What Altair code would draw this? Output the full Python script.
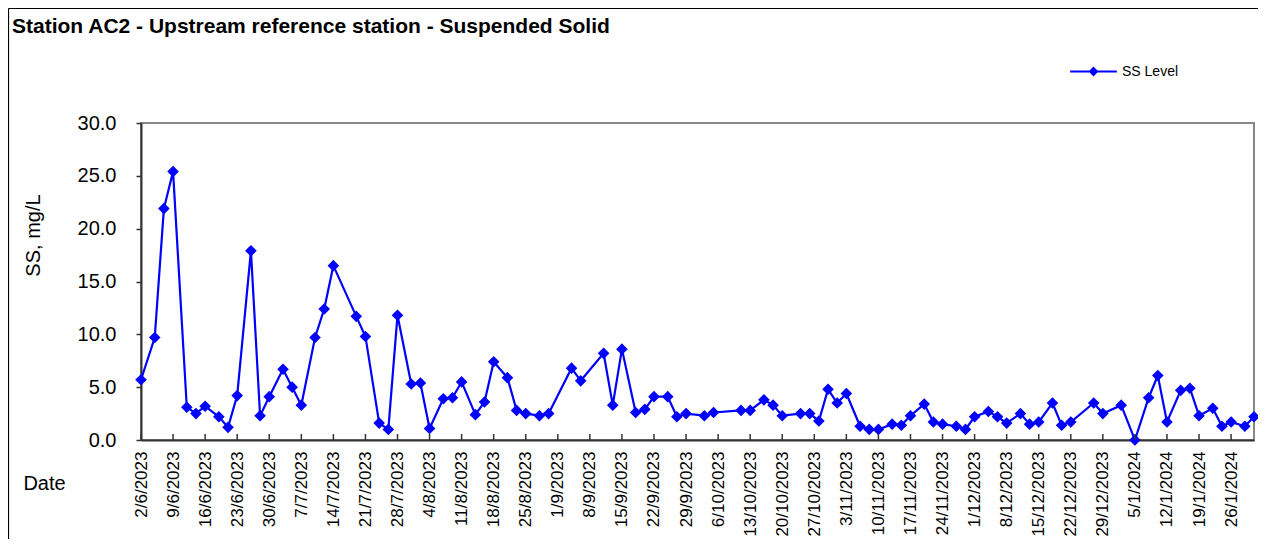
import altair as alt
import pandas as pd

# ---- data ----
dates = [
    "2/6/2023", "5/6/2023", "7/6/2023", "9/6/2023", "12/6/2023", "14/6/2023", "16/6/2023",
    "19/6/2023", "21/6/2023", "23/6/2023", "26/6/2023", "28/6/2023", "30/6/2023",
    "3/7/2023", "5/7/2023", "7/7/2023", "10/7/2023", "12/7/2023", "14/7/2023", "19/7/2023",
    "21/7/2023", "24/7/2023", "26/7/2023", "28/7/2023", "31/7/2023",
    "2/8/2023", "4/8/2023", "7/8/2023", "9/8/2023", "11/8/2023", "14/8/2023", "16/8/2023",
    "18/8/2023", "21/8/2023", "23/8/2023", "25/8/2023", "28/8/2023", "30/8/2023",
    "4/9/2023", "6/9/2023", "11/9/2023", "13/9/2023", "15/9/2023", "18/9/2023", "20/9/2023",
    "22/9/2023", "25/9/2023", "27/9/2023", "29/9/2023",
    "3/10/2023", "5/10/2023", "11/10/2023", "13/10/2023", "16/10/2023", "18/10/2023",
    "20/10/2023", "24/10/2023", "26/10/2023", "28/10/2023", "30/10/2023",
    "1/11/2023", "3/11/2023", "6/11/2023", "8/11/2023", "10/11/2023", "13/11/2023",
    "15/11/2023", "17/11/2023", "20/11/2023", "22/11/2023", "24/11/2023", "27/11/2023",
    "29/11/2023", "1/12/2023", "4/12/2023", "6/12/2023", "8/12/2023", "11/12/2023",
    "13/12/2023", "15/12/2023", "18/12/2023", "20/12/2023", "22/12/2023", "27/12/2023",
    "29/12/2023", "2/1/2024", "5/1/2024", "8/1/2024", "10/1/2024", "12/1/2024",
    "15/1/2024", "17/1/2024", "19/1/2024", "22/1/2024", "24/1/2024", "26/1/2024",
    "29/1/2024", "31/1/2024",
]
ss_level = [
    5.7, 9.7, 21.9, 25.4, 3.1, 2.5, 3.2,
    2.2, 1.2, 4.2, 17.9, 2.3, 4.1,
    6.7, 5.0, 3.3, 9.7, 12.4, 16.5, 11.7,
    9.8, 1.6, 1.0, 11.8, 5.3,
    5.4, 1.1, 3.9, 4.0, 5.5, 2.4, 3.6,
    7.4, 5.9, 2.8, 2.5, 2.3, 2.5,
    6.8, 5.6, 8.2, 3.3, 8.6, 2.6, 2.9,
    4.1, 4.1, 2.2, 2.5,
    2.3, 2.6, 2.8, 2.8, 3.8, 3.3,
    2.3, 2.5, 2.5, 1.8, 4.8,
    3.5, 4.4, 1.3, 1.0, 1.0, 1.5,
    1.4, 2.3, 3.4, 1.7, 1.5, 1.3,
    1.0, 2.2, 2.7, 2.2, 1.6, 2.5,
    1.5, 1.7, 3.5, 1.4, 1.7, 3.5,
    2.5, 3.3, 0.0, 4.0, 6.1, 1.7,
    4.7, 4.9, 2.3, 3.0, 1.3, 1.7,
    1.3, 2.2,
]
tick_labels = [
    "2/6/2023", "9/6/2023", "16/6/2023", "23/6/2023", "30/6/2023", "7/7/2023",
    "14/7/2023", "21/7/2023", "28/7/2023", "4/8/2023", "11/8/2023", "18/8/2023",
    "25/8/2023", "1/9/2023", "8/9/2023", "15/9/2023", "22/9/2023", "29/9/2023",
    "6/10/2023", "13/10/2023", "20/10/2023", "27/10/2023", "3/11/2023", "10/11/2023",
    "17/11/2023", "24/11/2023", "1/12/2023", "8/12/2023", "15/12/2023", "22/12/2023",
    "29/12/2023", "5/1/2024", "12/1/2024", "19/1/2024", "26/1/2024",
]
y_ticks = [0, 5, 10, 15, 20, 25, 30]
x_start, x_end = "2/6/2023", "31/1/2024"
series_name = "SS Level"

FONT = "Liberation Sans"
W, H = 1113, 317
PAD_R, PAD_B = 4, 99


def to_iso(s):
    return pd.to_datetime(s, dayfirst=True).strftime("%Y-%m-%d")


def to_ms(s):
    return int(pd.Timestamp(pd.to_datetime(s, dayfirst=True)).tz_localize("UTC").timestamp() * 1000)


df = pd.DataFrame({"date": [to_iso(d) for d in dates], "value": ss_level})
df["series"] = series_name
ticks_df = pd.DataFrame({"date": [to_iso(d) for d in tick_labels]})

x_scale = alt.Scale(type="utc", domain=[to_ms(x_start), to_ms(x_end)], nice=False)
y_scale = alt.Scale(domain=[0, 30], nice=False, zero=True)

x_axis = alt.Axis(
    values=[to_ms(d) for d in tick_labels],
    format="%-d/%-m/%Y",
    labelAngle=270,
    labelFontSize=17,
    labelFont=FONT,
    labelColor="#000000",
    labelPadding=11,
    labelFlush=False,
    labelOverlap=False,
    labelSeparation=0,
    ticks=False,
    tickSize=0,
    grid=False,
    domainColor="#333333",
    domainWidth=2,
    title="Date",
    titleFont=FONT,
    titleFontSize=20,
    titleFontWeight="normal",
    titleColor="#000000",
    titleAngle=0,
    titleAlign="center",
    titleBaseline="middle",
    titleX=-97,
    titleY=43,
)
y_axis = alt.Axis(
    values=y_ticks,
    format=".1f",
    labelFontSize=20,
    labelFont=FONT,
    labelColor="#000000",
    labelPadding=20,
    tickSize=5,
    tickColor="#333333",
    tickWidth=1.5,
    grid=False,
    domainColor="#333333",
    domainWidth=2,
    title="SS, mg/L",
    titleFont=FONT,
    titleFontSize=20,
    titleFontWeight="normal",
    titleColor="#000000",
    titleAngle=270,
    titleAlign="center",
    titleBaseline="middle",
    titleX=-108,
    titleY=112,
)


def xe():
    return alt.X("date:T", scale=x_scale, axis=x_axis)


def ye():
    return alt.Y("value:Q", scale=y_scale, axis=y_axis)


line = alt.Chart(df).mark_line(strokeWidth=2.2).encode(
    x=xe(),
    y=ye(),
    color=alt.Color(
        "series:N",
        scale=alt.Scale(range=["#0000FF"]),
        legend=alt.Legend(
            title=None,
            orient="none",
            legendX=928,
            legendY=-76,
            padding=0,
            symbolType="M-1,0H1M0,-0.15L0.15,0L0,0.15L-0.15,0Z",
            symbolSize=2180,
            symbolStrokeWidth=2,
            symbolStrokeColor="#0000FF",
            symbolFillColor="#0000FF",
            labelFont=FONT,
            labelFontSize=14,
            labelColor="#000000",
            labelOffset=4,
        ),
    ),
)

points = alt.Chart(df).mark_point(
    shape="diamond", filled=True, size=135, opacity=1, color="#0000FF"
).encode(x=xe(), y=ye())

inner_ticks = alt.Chart(ticks_df).mark_rule(color="#333333", strokeWidth=1.5).encode(
    x=xe(), y=alt.value(H), y2=alt.value(H - 6)
)

one = pd.DataFrame({"k": [0]})
frame_top = alt.Chart(one).mark_rule(color="#000000", strokeWidth=1.2).encode(
    x=alt.value(-132.5), x2=alt.value(W + PAD_R), y=alt.value(-114.5)
)
frame_left = alt.Chart(one).mark_rule(color="#000000", strokeWidth=1.2).encode(
    x=alt.value(-132.5), y=alt.value(-114.5), y2=alt.value(H + PAD_B)
)

chart = (
    alt.layer(frame_top, frame_left, line, points, inner_ticks)
    .properties(
        width=W,
        height=H,
        padding={"left": 133, "top": 115, "right": PAD_R, "bottom": PAD_B},
        autosize=alt.AutoSizeParams(type="none"),
        title=alt.TitleParams(
            text="Station AC2 - Upstream reference station - Suspended Solid",
            anchor="start",
            frame="group",
            font=FONT,
            fontSize=21,
            fontWeight="bold",
            color="#000000",
            baseline="alphabetic",
            offset=0,
            dx=-129,
            dy=46,
        ),
    )
    .configure_view(stroke="#888888", strokeWidth=2)
)

chart.save("out.html", embed_options={"renderer": "svg", "actions": False})
